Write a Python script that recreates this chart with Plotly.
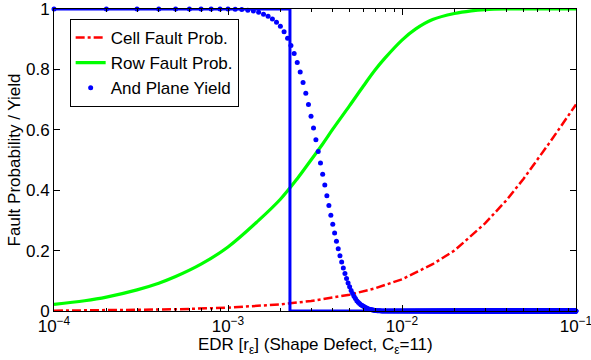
import numpy as np
import plotly.graph_objects as go

# ---- data ----
cell_x = [1e-4, 2e-4, 5e-4, 1e-3, 1.5e-3, 2e-3, 3e-3, 4e-3, 5e-3, 7e-3, 8.5e-3, 1e-2,
          1.5e-2, 2e-2, 3e-2, 4e-2, 5e-2, 6e-2, 7e-2, 8e-2, 9e-2, 1e-1]
cell_y = [0.001, 0.0023, 0.0056, 0.011, 0.017, 0.022, 0.033, 0.044, 0.054, 0.075, 0.090, 0.105,
          0.155, 0.200, 0.290, 0.368, 0.438, 0.500, 0.555, 0.603, 0.645, 0.684]

row_x = [1e-4, 1.5e-4, 2e-4, 3e-4, 4e-4, 5e-4, 7e-4, 1e-3, 1.5e-3, 2e-3, 2.5e-3, 3e-3, 3.5e-3,
         4e-3, 5e-3, 6e-3, 7e-3, 8e-3, 1e-2, 1.2e-2, 1.5e-2, 2e-2, 2.5e-2, 3e-2, 4e-2, 5e-2, 1e-1]
row_y = [0.022, 0.034, 0.046, 0.070, 0.092, 0.114, 0.155, 0.212, 0.300, 0.370, 0.438, 0.500, 0.553,
         0.602, 0.680, 0.745, 0.798, 0.838, 0.897, 0.934, 0.965, 0.985, 0.994, 0.998, 1.0, 1.0, 1.0]

# And plane yield, sampled every 1e-4 from 1e-4 to 1e-1
yield_step = 1e-4
yield_head = [1.0, 1.0, 1.0, 1.0, 1.0, 1.0, 1.0, 1.0, 1.0, 1.0,
              0.999, 0.998, 0.996, 0.993, 0.989, 0.983, 0.976, 0.967, 0.956, 0.943,
              0.925, 0.903, 0.879, 0.853, 0.823, 0.791, 0.757, 0.721, 0.684, 0.645,
              0.606, 0.567, 0.528, 0.490, 0.453, 0.417, 0.382, 0.349, 0.317, 0.287,
              0.258, 0.231, 0.206, 0.183, 0.162, 0.142, 0.124, 0.108, 0.093, 0.080,
              0.068, 0.058, 0.049, 0.041, 0.034, 0.029, 0.025, 0.021, 0.018, 0.016,
              0.013, 0.011, 0.009, 0.007, 0.006, 0.005, 0.004, 0.003, 0.0025, 0.002,
              0.0015, 0.0012, 0.001, 0.0008, 0.0006, 0.0004, 0.0003, 0.0002, 0.0001, 0.0]
yield_tail = [0.0] * (1000 - len(yield_head))
yield_y = yield_head + yield_tail
yield_x = list(np.arange(1, 1001) * yield_step)

step_x = [1e-4, 2.27e-3, 2.27e-3, 1e-1]
step_y = [1, 1, 0, 0]

xtick_vals = [1e-4, 1e-3, 1e-2, 1e-1]
xtick_text = ["10<sup>\u22124</sup>", "10<sup>\u22123</sup>", "10<sup>\u22122</sup>", "10<sup>\u22121</sup>"]
ytick_vals = [0, 0.2, 0.4, 0.6, 0.8, 1]
ytick_text = ["0", "0.2", "0.4", "0.6", "0.8", "1"]
x_title = "EDR [r<sub>\u03b5</sub>] (Shape Defect, C<sub>\u03b5</sub>=11)"
y_title = "Fault Probability / Yield"

FONT = "Liberation Sans"
FS = 17

fig = go.Figure()
fig.add_trace(go.Scatter(x=cell_x, y=cell_y, mode="lines", name="Cell Fault Prob.",
                         line=dict(color="#ff0000", width=2.5, dash="dashdot")))
fig.add_trace(go.Scatter(x=row_x, y=row_y, mode="lines", name="Row Fault Prob.",
                         line=dict(color="#00ff00", width=3.2, shape="spline")))
fig.add_trace(go.Scatter(x=yield_x, y=yield_y, mode="markers", name="And Plane Yield",
                         marker=dict(color="#0000ff", size=5), cliponaxis=False))
fig.add_trace(go.Scatter(x=step_x, y=step_y, mode="lines", showlegend=False,
                         line=dict(color="#0000ff", width=3), cliponaxis=False))

minor_vals = [m * 10.0 ** e for e in (-4, -3, -2) for m in range(2, 10)]

fig.update_layout(
    template="none",
    width=591, height=360,
    margin=dict(l=54, r=15, t=9, b=49, autoexpand=False),
    paper_bgcolor="white", plot_bgcolor="white",
    font=dict(family=FONT, size=FS, color="black"),
    showlegend=True,
    legend=dict(x=0.03, y=0.967, xanchor="left", yanchor="top",
                bgcolor="white", bordercolor="black", borderwidth=1, itemwidth=30,
                font=dict(family=FONT, size=FS), tracegroupgap=0),
    xaxis=dict(type="log", range=[-4, -1], tickvals=xtick_vals, ticktext=xtick_text,
               automargin=False, ticklabeloverflow="allow",
               ticks="inside", ticklen=6, tickcolor="black", showgrid=False, zeroline=False,
               showline=True, linecolor="black", linewidth=1, mirror="ticks",
               minor=dict(tickvals=minor_vals, ticks="inside", ticklen=3, tickcolor="black", showgrid=False),
               tickfont=dict(family=FONT, size=FS)),
    yaxis=dict(range=[0, 1], tickvals=ytick_vals, ticktext=ytick_text,
               automargin=False, ticklabeloverflow="allow",
               ticks="inside", ticklen=6, tickcolor="black", showgrid=False, zeroline=False,
               showline=True, linecolor="black", linewidth=1, mirror="ticks",
               title=dict(text=y_title, font=dict(family=FONT, size=FS), standoff=1),
               tickfont=dict(family=FONT, size=FS)),
    annotations=[dict(text=x_title, xref="paper", yref="paper", x=0.5, y=-0.072,
                      xanchor="center", yanchor="top", showarrow=False,
                      font=dict(family=FONT, size=FS))],
)

fig.write_html("out.html", post_script="document.body.style.margin='0';",
               config={"displayModeBar": False})
